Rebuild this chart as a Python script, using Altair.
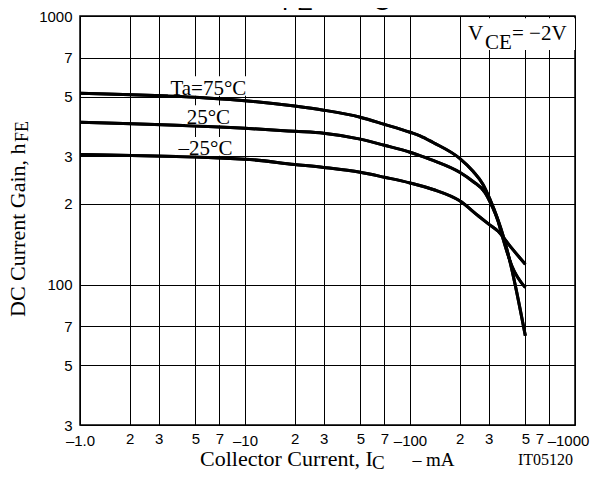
import altair as alt
import pandas as pd

# ---------------- data ----------------
x_75 = [1, 10, 20, 30, 50, 70, 100, 115, 138, 200, 241, 277, 305, 337, 371, 409, 500]
y_75 = [516, 484, 462, 446, 420, 395, 369, 358, 338, 295, 264, 236, 208, 178, 148.5, 117.7, 64.5]
x_25 = [1, 10, 20, 30, 50, 70, 100, 115, 138, 200, 241, 285, 314, 342, 361, 415, 500]
y_25 = [402, 382, 372, 366, 348, 330, 311, 302, 290, 262, 242, 220, 196, 172, 153, 117, 97.4]
x_m25 = [1, 10, 20, 30, 50, 70, 100, 138, 200, 260, 300, 342, 404, 500]
y_m25 = [305, 293, 280, 273, 262, 251, 239, 226, 205, 180, 168, 158, 139, 119]
series_names = ["Ta=75°C", "25°C", "–25°C"]

x_ticks = [1, 2, 3, 5, 7, 10, 20, 30, 50, 70, 100, 200, 300, 500, 700, 1000]
x_tick_labels = ["–1.0", "2", "3", "5", "7", "–10", "2", "3", "5", "7", "–100",
                 "2", "3", "5", "7", "–1000"]
y_ticks = [30, 50, 70, 100, 200, 300, 500, 700, 1000]
y_tick_labels = ["3", "5", "7", "100", "2", "3", "5", "7", "1000"]

chart_title_main = ["h", "–", "I"]
chart_title_sub = ["FE", "C"]
y_title = "DC Current Gain, h"
y_title_sub = "FE"
x_title = "Collector Current, I"
x_title_sub = "C"
x_title_dash = "–"
x_title_unit = "mA"
fig_id = "IT05120"
cond_main = "V"
cond_sub = "CE"
cond_value = "= −2V"

# ---------------- build ----------------
rows = []
for name, xs_, ys_ in zip(series_names, [x_75, x_25, x_m25], [y_75, y_25, y_m25]):
    for a, b in zip(xs_, ys_):
        rows.append({"series": name, "x": a, "y": b})
curves = pd.DataFrame(rows)


def label_expr(vals, labs):
    s = "''"
    for v, l in reversed(list(zip(vals, labs))):
        s = f"datum.value == {v} ? '{l}' : ({s})"
    return s


xs = alt.Scale(type="log", domain=[1, 1000], nice=False)
ys = alt.Scale(type="log", domain=[30, 1000], nice=False)

decade_test = "datum.value == 1 || datum.value == 10 || datum.value == 100 || datum.value == 1000"

x_axis = alt.Axis(values=x_ticks, labelExpr=label_expr(x_ticks, x_tick_labels),
                  grid=True, gridColor="black", gridWidth=1, gridOpacity=1,
                  ticks=False, domain=False, title=None,
                  labelFont="Liberation Sans", labelFontSize=15, labelColor="black",
                  labelPadding={"condition": {"test": decade_test, "value": 8}, "value": 6},
                  labelOffset={"condition": [{"test": "datum.value == 1000", "value": -7},
                                             {"test": "datum.value == 700", "value": -10}],
                               "value": 0},
                  labelOverlap=False, labelFlush=False, labelBaseline="top")
y_axis = alt.Axis(values=y_ticks, labelExpr=label_expr(y_ticks, y_tick_labels),
                  grid=True, gridColor="black", gridWidth=1, gridOpacity=1,
                  ticks=False, domain=False, title=None,
                  labelFont="Liberation Sans", labelFontSize=15, labelColor="black",
                  labelPadding=8, labelOverlap=False, labelFlush=False)

X = lambda f: alt.X(f, scale=xs, axis=x_axis)
Y = lambda f: alt.Y(f, scale=ys, axis=y_axis)

lines = alt.Chart(curves).mark_line(color="black", strokeWidth=3, interpolate="monotone").encode(
    x=X("x:Q"), y=Y("y:Q"), detail="series:N")


def white_box(x0, x1, y0, y1):
    return alt.Chart(pd.DataFrame({"x": [x0], "x2": [x1], "y": [y0], "y2": [y1]})).mark_rect(
        color="white").encode(x=X("x:Q"), x2="x2:Q", y=Y("y:Q"), y2="y2:Q")


def data_text(s, xv, yv, size, align="center", font="Liberation Serif"):
    return alt.Chart(pd.DataFrame({"t": [s], "x": [xv], "y": [yv]})).mark_text(
        font=font, fontSize=size, align=align, baseline="alphabetic", color="black").encode(
        x=X("x:Q"), y=Y("y:Q"), text="t:N")


def px_text(s, xp, yp, size, align="left", font="Liberation Serif", angle=None):
    kw = dict(font=font, fontSize=size, align=align, baseline="alphabetic", color="black")
    if angle:
        kw["angle"] = angle
    return alt.Chart(pd.DataFrame({"t": [s]})).mark_text(**kw).encode(
        x=alt.value(xp), y=alt.value(yp), text="t:N")


layers = [lines,
          white_box(210, 1000, 747, 981),      # behind V_CE note
          white_box(3.41, 10.5, 505, 597),     # behind Ta=75°C
          white_box(4.33, 8.34, 392, 465),     # behind 25°C
          white_box(3.82, 8.70, 302, 354),     # behind –25°C
          lines,
          data_text(series_names[0], 6.0, 509, 21),
          data_text(series_names[1], 6.0, 395, 21),
          data_text(series_names[2], 5.76, 303, 21),
          data_text(cond_main, 224.7, 813, 21, align="left"),
          data_text(cond_sub, 284.8, 753, 21, align="left"),
          data_text(cond_value, 415, 813, 21, align="left"),
          # chart title (cut off at the top of the page, as in the reference)
          px_text(chart_title_main[0], 185, -10, 27, font="Liberation Sans"),
          px_text(chart_title_sub[0], 202, -6, 24, font="Liberation Sans"),
          px_text(chart_title_main[1], 250, -10, 27, font="Liberation Sans"),
          px_text(chart_title_main[2], 287, -10, 27, font="Liberation Sans"),
          px_text(chart_title_sub[1], 293, -6, 24, font="Liberation Sans"),
          # y title
          px_text(y_title, -55, 301, 22, angle=270),
          px_text(y_title_sub, -52, 126, 18, angle=270),
          # x title
          px_text(x_title, 120, 449.5, 22),
          px_text(x_title_sub, 292, 453, 19),
          px_text(x_title_dash, 337, 449.5, 18, align="center"),
          px_text(x_title_unit, 346, 449.5, 19),
          px_text(fig_id, 438, 449, 16),
          ]

chart = alt.layer(*layers).properties(
    width=495, height=409,
    autosize=alt.AutoSizeParams(type="none"),
    padding={"left": 72, "top": 8, "right": 15, "bottom": 45},
).configure_view(stroke="black", strokeWidth=1.5)

chart.save("out.html", embed_options={"renderer": "svg", "actions": False})
